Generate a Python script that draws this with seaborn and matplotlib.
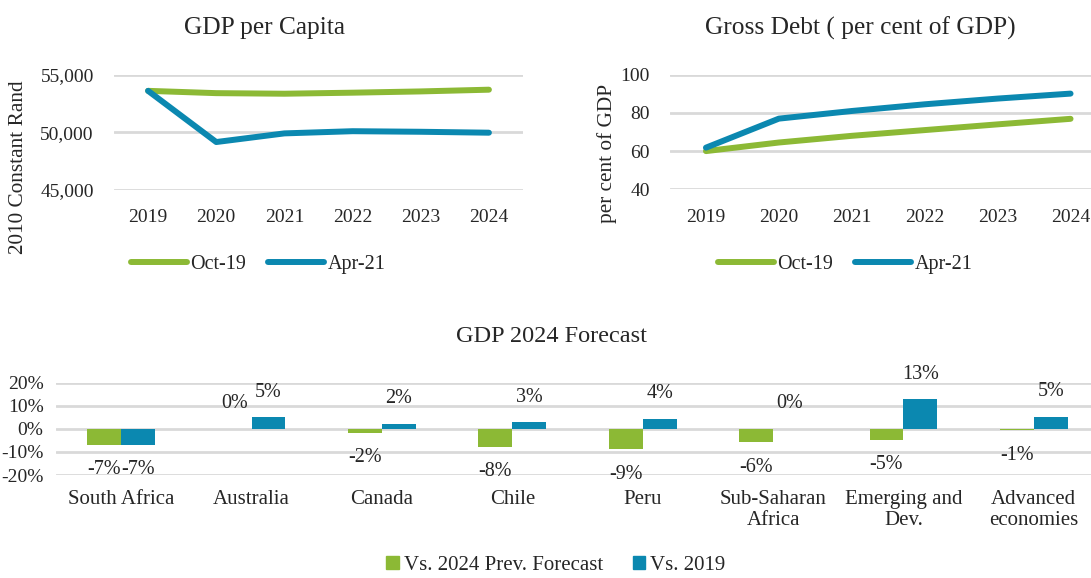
import numpy as np
import pandas as pd
import matplotlib
matplotlib.use("Agg")
import matplotlib.pyplot as plt
from matplotlib.patches import Patch
from matplotlib.ticker import FuncFormatter, FixedLocator
import seaborn as sns

# ---- data -------------------------------------------------------------
years = ["2019", "2020", "2021", "2022", "2023", "2024"]
vintages = ["Oct-19", "Apr-21"]

gdp_pc_oct19 = [53600, 53400, 53350, 53440, 53550, 53700]
gdp_pc_apr21 = [53600, 49160, 49910, 50100, 50050, 49970]

debt_oct19 = [60.0, 64.5, 68.0, 71.0, 74.0, 76.9]
debt_apr21 = [61.8, 77.0, 81.0, 84.5, 87.5, 90.1]

regions = ["South Africa", "Australia", "Canada", "Chile", "Peru",
           "Sub-Saharan\nAfrica", "Emerging and\nDev.", "Advanced\neconomies"]
comparisons = ["Vs. 2024 Prev. Forecast", "Vs. 2019"]
vs_prev_forecast = [-6.8, 0.0, -1.7, -7.8, -8.8, -5.8, -4.8, -0.6]
vs_2019 = [-6.8, 5.1, 2.3, 2.8, 4.4, 0.0, 12.9, 5.3]

gdp_ticks = [45000, 50000, 55000]
debt_ticks = [40, 60, 80, 100]
pct_ticks = [-20, -10, 0, 10, 20]

# ---- style ------------------------------------------------------------
GREEN = "#8CB935"
BLUE = "#0B88B0"
GRID = "#D9D9D9"
TEXT = "#262626"

sns.set_theme(style="white")
plt.rcParams["font.family"] = ["Liberation Serif", "DejaVu Serif"]
plt.rcParams["text.color"] = TEXT
plt.rcParams["axes.labelcolor"] = TEXT
plt.rcParams["xtick.color"] = TEXT
plt.rcParams["ytick.color"] = TEXT

W, H = 1091, 578
fig = plt.figure(figsize=(W / 100, H / 100), dpi=100)


def px_axes(x0, x1, ytop, ybot):
    """Axes placed by pixel edges measured from the top-left corner."""
    return fig.add_axes([x0 / W, 1 - ybot / H, (x1 - x0) / W, (ybot - ytop) / H])


def style_axes(ax):
    for s in ax.spines.values():
        s.set_visible(False)
    ax.grid(False)
    ax.tick_params(axis="both", length=0, labelsize=14)
    ax.set_xlabel("")
    ax.set_ylabel("")


def draw_grid(ax, ticks):
    for t in ticks:
        ax.axhline(t, color=GRID, lw=2.0, zorder=0)


palette = {vintages[0]: GREEN, vintages[1]: BLUE}

# ---- GDP per capita ---------------------------------------------------
gdp_df = pd.DataFrame({
    "pos": list(range(len(years))) * 2,
    "value": gdp_pc_oct19 + gdp_pc_apr21,
    "vintage": [vintages[0]] * len(years) + [vintages[1]] * len(years),
})
ax1 = px_axes(114, 523, 74.7, 190)
sns.lineplot(data=gdp_df, x="pos", y="value", hue="vintage", palette=palette,
             lw=4.3, solid_capstyle="round", ax=ax1, legend=True)
h1, l1 = ax1.get_legend_handles_labels()
ax1.get_legend().remove()
style_axes(ax1)
draw_grid(ax1, gdp_ticks)
ax1.set_xlim(-0.5, len(years) - 0.5)
ax1.set_ylim(45000, 55000)
ax1.set_yticks(gdp_ticks)
ax1.yaxis.set_major_formatter(FuncFormatter(lambda v, p: f"{v:,.0f}"))
ax1.set_xticks(range(len(years)))
ax1.set_xticklabels(years)
ax1.tick_params(axis="x", pad=14)
ax1.tick_params(axis="y", pad=14.5)
fig.text(264 / W, 1 - 28 / H, "GDP per Capita", ha="center", va="center", fontsize=18.3)
fig.text(19 / W, 1 - 167 / H, "2010 Constant Rand", ha="center", va="center",
         rotation=90, fontsize=15.3)

# ---- Gross debt -------------------------------------------------------
debt_df = pd.DataFrame({
    "pos": list(range(len(years))) * 2,
    "value": debt_oct19 + debt_apr21,
    "vintage": [vintages[0]] * len(years) + [vintages[1]] * len(years),
})
ax2 = px_axes(669.5, 1107, 74.7, 189.3)
sns.lineplot(data=debt_df, x="pos", y="value", hue="vintage", palette=palette,
             lw=4.3, solid_capstyle="round", ax=ax2, legend=True)
h2, l2 = ax2.get_legend_handles_labels()
ax2.get_legend().remove()
style_axes(ax2)
draw_grid(ax2, debt_ticks)
ax2.set_xlim(-0.5, len(years) - 0.5)
ax2.set_ylim(40, 100)
ax2.set_yticks(debt_ticks)
ax2.set_xticks(range(len(years)))
ax2.set_xticklabels(years)
ax2.tick_params(axis="x", pad=14)
ax2.tick_params(axis="y", pad=14)
fig.text(860 / W, 1 - 28 / H, "Gross Debt ( per cent of GDP)", ha="center",
         va="center", fontsize=18.3)
fig.text(607 / W, 1 - 153 / H, "per cent of GDP", ha="center", va="center",
         rotation=90, fontsize=15.3)

for handles, labels, cx in ((h1, l1, 258), (h2, l2, 845)):
    leg = fig.legend(handles, labels, loc="center", bbox_to_anchor=(cx / W, 1 - 264 / H),
                     ncol=2, frameon=False, fontsize=14.5, handlelength=2.8,
                     handletextpad=0.15, columnspacing=1.1)
    for ln in leg.get_lines():
        ln.set_linewidth(4.3)
        ln.set_solid_capstyle("round")

# ---- GDP 2024 forecast ------------------------------------------------
bar_df = pd.DataFrame({
    "region": regions * 2,
    "value": vs_prev_forecast + vs_2019,
    "comparison": [comparisons[0]] * len(regions) + [comparisons[1]] * len(regions),
})
ax3 = px_axes(56, 1099, 382.7, 475)
sns.barplot(data=bar_df, x="region", y="value", hue="comparison", order=regions,
            hue_order=comparisons, palette=[GREEN, BLUE], width=0.52, gap=0,
            saturation=1, ax=ax3, legend=False, zorder=3, linewidth=0)
style_axes(ax3)
draw_grid(ax3, pct_ticks)
ax3.set_xlim(-0.5, len(regions) - 0.5)
ax3.set_ylim(-20, 20)
ax3.yaxis.set_major_locator(FixedLocator(pct_ticks))
ax3.yaxis.set_major_formatter(FuncFormatter(lambda v, p: f"{v:.0f}%"))
ax3.tick_params(axis="y", pad=9)
ax3.tick_params(axis="x", pad=11, labelsize=15)
for lbl in ax3.get_xticklabels():
    lbl.set_linespacing(1.15)

# value labels just beyond each bar end
for cont in ax3.containers:
    for bar in cont:
        h = bar.get_height()
        val = h if bar.get_y() == 0 else -abs(h)
        cx = bar.get_x() + bar.get_width() / 2
        off = 18 if val >= 0 else -18
        ax3.annotate(f"{val:.0f}%", xy=(cx, val), xytext=(0, off),
                     textcoords="offset points", ha="center", va="center",
                     fontsize=14.5, color=TEXT, annotation_clip=False)

fig.text(551 / W, 1 - 336 / H, "GDP 2024 Forecast", ha="center", va="center",
         fontsize=17.5)
fig.legend([Patch(color=GREEN), Patch(color=BLUE)], comparisons, loc="center",
           bbox_to_anchor=(556 / W, 1 - 565 / H), ncol=2, frameon=False,
           fontsize=15, handlelength=0.6, handleheight=0.6,
           handletextpad=0.25, columnspacing=1.4, borderpad=0.1)

fig.savefig("out.png", dpi=100)
